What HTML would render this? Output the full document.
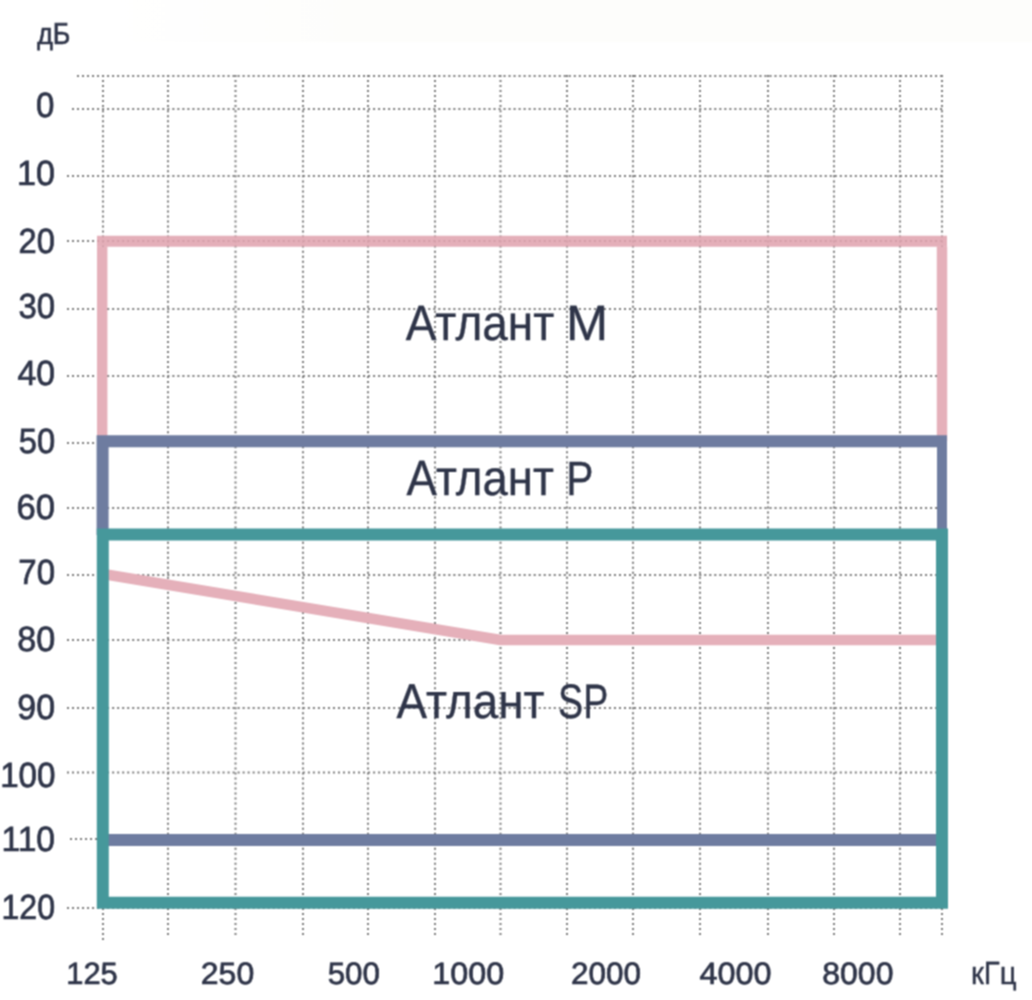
<!DOCTYPE html>
<html><head><meta charset="utf-8">
<style>
html,body{margin:0;padding:0;background:#fff;}
body{width:1032px;height:1000px;overflow:hidden;position:relative;}
svg{position:absolute;left:0;top:0;}
text{font-family:"Liberation Sans",sans-serif;fill:#2e3448;stroke:#2e3448;stroke-width:0.35;text-rendering:geometricPrecision;}
</style></head><body>
<svg width="1032" height="1000" viewBox="0 0 1032 1000">
<defs><linearGradient id="topband" x1="0" y1="0" x2="1032" y2="0" gradientUnits="userSpaceOnUse"><stop offset="0.1" stop-color="#fdfdfb" stop-opacity="0"/><stop offset="0.35" stop-color="#fdfdfb" stop-opacity="1"/></linearGradient><filter id="bl" color-interpolation-filters="sRGB" x="0" y="0" width="1032" height="1000" filterUnits="userSpaceOnUse"><feConvolveMatrix order="3" kernelMatrix="1 2 1 2 4 2 1 2 1" edgeMode="duplicate" preserveAlpha="false"/></filter></defs>
<g>
<rect x="0" y="0" width="1032" height="1000" fill="#fff"/>
<rect x="0" y="0" width="1032" height="42" fill="url(#topband)"/>
<g stroke="#7a7a7a" stroke-width="2" stroke-dasharray="2 3.018" fill="none">
<line x1="77" y1="76" x2="944" y2="76"/>
<line x1="72" y1="109" x2="944" y2="109"/>
<line x1="67" y1="176" x2="944" y2="176"/>
<line x1="67" y1="241" x2="944" y2="241"/>
<line x1="67" y1="309" x2="944" y2="309"/>
<line x1="67" y1="376" x2="944" y2="376"/>
<line x1="67" y1="443" x2="944" y2="443"/>
<line x1="67" y1="508" x2="944" y2="508"/>
<line x1="67" y1="575" x2="944" y2="575"/>
<line x1="67" y1="640" x2="944" y2="640"/>
<line x1="67" y1="708" x2="944" y2="708"/>
<line x1="67" y1="772.5" x2="944" y2="772.5"/>
<line x1="70" y1="839" x2="944" y2="839"/>
<line x1="67" y1="908" x2="944" y2="908"/>
<line x1="103" y1="75" x2="103" y2="942"/>
<line x1="168" y1="75" x2="168" y2="937"/>
<line x1="235.5" y1="75" x2="235.5" y2="937"/>
<line x1="303" y1="75" x2="303" y2="937"/>
<line x1="368" y1="75" x2="368" y2="937"/>
<line x1="435" y1="75" x2="435" y2="937"/>
<line x1="500.5" y1="75" x2="500.5" y2="937"/>
<line x1="567" y1="75" x2="567" y2="937"/>
<line x1="633" y1="75" x2="633" y2="937"/>
<line x1="700" y1="75" x2="700" y2="937"/>
<line x1="768" y1="75" x2="768" y2="937"/>
<line x1="834" y1="75" x2="834" y2="937"/>
<line x1="900" y1="75" x2="900" y2="937"/>
<line x1="942" y1="75" x2="942" y2="937"/>
</g>
<g fill="none" stroke-linecap="butt" stroke-linejoin="miter">
  <path d="M102.2 441 V246.5 M942 246.5 V441" stroke="#e5b0ba" stroke-width="10.4"/>
  <path d="M97 241.2 H947" stroke="#e0a3af" stroke-width="11" opacity="0.87"/>
  <path d="M103 574 L500.5 640 H936" stroke="#e5b0ba" stroke-width="10.5" stroke-linejoin="round"/>
  <path d="M102.6 535 V441.3 H937" stroke="#6e7ca0" stroke-width="12"/>
  <path d="M942 435.3 V535" stroke="#6e7ca0" stroke-width="10"/>
  <path d="M103 840 H942" stroke="#6e7ca0" stroke-width="12"/>
  <path d="M102.8 534.5 H942 V902.8 H102.8 Z" stroke="#46989b" stroke-width="12"/>
</g>
<text transform="translate(37.26 44.26) scale(0.8917 1.0084)" font-size="30" style="stroke-width:0.7">дБ</text>
<text transform="translate(36.03 117.03) scale(0.9711 1.0276)" font-size="34" style="stroke-width:0.7">0</text>
<text transform="translate(16.96 185.32) scale(1.0029 1.0276)" font-size="34" style="stroke-width:0.7">10</text>
<text transform="translate(18.52 252.51) scale(0.9602 1.0276)" font-size="34" style="stroke-width:0.7">20</text>
<text transform="translate(18.38 318.04) scale(0.9676 1.0276)" font-size="34" style="stroke-width:0.7">30</text>
<text transform="translate(17.45 385.05) scale(0.9922 1.0276)" font-size="34" style="stroke-width:0.7">40</text>
<text transform="translate(18.80 452.85) scale(0.9614 1.0276)" font-size="34" style="stroke-width:0.7">50</text>
<text transform="translate(16.43 519.34) scale(1.0189 1.0276)" font-size="34" style="stroke-width:0.7">60</text>
<text transform="translate(18.30 583.95) scale(0.9706 1.0276)" font-size="34" style="stroke-width:0.7">70</text>
<text transform="translate(17.16 651.43) scale(1.0037 1.0276)" font-size="34" style="stroke-width:0.7">80</text>
<text transform="translate(17.33 718.93) scale(0.9973 1.0276)" font-size="34" style="stroke-width:0.7">90</text>
<text transform="translate(0.17 786.84) scale(0.9752 1.0276)" font-size="34" style="stroke-width:0.7">100</text>
<text transform="translate(1.46 851.44) scale(0.9886 1.0276)" font-size="34" style="stroke-width:0.7">110</text>
<text transform="translate(1.48 919.14) scale(0.9430 1.0276)" font-size="34" style="stroke-width:0.7">120</text>
<text transform="translate(66.19 983.95) scale(0.9973 0.9970)" font-size="31" style="stroke-width:0.7">125</text>
<text transform="translate(200.82 983.91) scale(1.0326 0.9970)" font-size="31" style="stroke-width:0.7">250</text>
<text transform="translate(327.66 983.91) scale(1.0118 0.9970)" font-size="31" style="stroke-width:0.7">500</text>
<text transform="translate(432.37 983.91) scale(1.0434 0.9970)" font-size="31" style="stroke-width:0.7">1000</text>
<text transform="translate(570.93 984.00) scale(1.0150 0.9970)" font-size="31" style="stroke-width:0.7">2000</text>
<text transform="translate(699.45 983.79) scale(1.0446 0.9970)" font-size="31" style="stroke-width:0.7">4000</text>
<text transform="translate(822.28 983.91) scale(1.0315 0.9970)" font-size="31" style="stroke-width:0.7">8000</text>
<text transform="translate(970.98 984.26) scale(0.9494 1.0401)" font-size="31" style="stroke-width:0.35">кГц</text>
<text transform="translate(405.70 339.96) scale(0.9582 1.0349)" font-size="48" style="stroke-width:0.35">Атлант</text>
<text transform="translate(565.95 340.16) scale(1.0532 1.0355)" font-size="48" style="stroke-width:0.35">M</text>
<text transform="translate(406.49 495.16) scale(0.9500 1.0355)" font-size="48" style="stroke-width:0.35">Атлант</text>
<text transform="translate(566.13 494.53) scale(0.8479 0.9992)" font-size="48" style="stroke-width:0.35">P</text>
<text transform="translate(396.48 717.99) scale(0.9537 1.0221)" font-size="48" style="stroke-width:0.35">Атлант</text>
<text transform="translate(558.09 718.03) scale(0.7836 1.0121)" font-size="48" style="stroke-width:0.35">SP</text>
</g>
<g filter="url(#bl)">
<rect x="0" y="0" width="1032" height="1000" fill="#fff"/>
<rect x="0" y="0" width="1032" height="42" fill="url(#topband)"/>
<g stroke="#7a7a7a" stroke-width="2" stroke-dasharray="2 3.018" fill="none">
<line x1="77" y1="76" x2="944" y2="76"/>
<line x1="72" y1="109" x2="944" y2="109"/>
<line x1="67" y1="176" x2="944" y2="176"/>
<line x1="67" y1="241" x2="944" y2="241"/>
<line x1="67" y1="309" x2="944" y2="309"/>
<line x1="67" y1="376" x2="944" y2="376"/>
<line x1="67" y1="443" x2="944" y2="443"/>
<line x1="67" y1="508" x2="944" y2="508"/>
<line x1="67" y1="575" x2="944" y2="575"/>
<line x1="67" y1="640" x2="944" y2="640"/>
<line x1="67" y1="708" x2="944" y2="708"/>
<line x1="67" y1="772.5" x2="944" y2="772.5"/>
<line x1="70" y1="839" x2="944" y2="839"/>
<line x1="67" y1="908" x2="944" y2="908"/>
<line x1="103" y1="75" x2="103" y2="942"/>
<line x1="168" y1="75" x2="168" y2="937"/>
<line x1="235.5" y1="75" x2="235.5" y2="937"/>
<line x1="303" y1="75" x2="303" y2="937"/>
<line x1="368" y1="75" x2="368" y2="937"/>
<line x1="435" y1="75" x2="435" y2="937"/>
<line x1="500.5" y1="75" x2="500.5" y2="937"/>
<line x1="567" y1="75" x2="567" y2="937"/>
<line x1="633" y1="75" x2="633" y2="937"/>
<line x1="700" y1="75" x2="700" y2="937"/>
<line x1="768" y1="75" x2="768" y2="937"/>
<line x1="834" y1="75" x2="834" y2="937"/>
<line x1="900" y1="75" x2="900" y2="937"/>
<line x1="942" y1="75" x2="942" y2="937"/>
</g>
<g fill="none" stroke-linecap="butt" stroke-linejoin="miter">
  <path d="M102.2 441 V246.5 M942 246.5 V441" stroke="#e5b0ba" stroke-width="10.4"/>
  <path d="M97 241.2 H947" stroke="#e0a3af" stroke-width="11" opacity="0.87"/>
  <path d="M103 574 L500.5 640 H936" stroke="#e5b0ba" stroke-width="10.5" stroke-linejoin="round"/>
  <path d="M102.6 535 V441.3 H937" stroke="#6e7ca0" stroke-width="12"/>
  <path d="M942 435.3 V535" stroke="#6e7ca0" stroke-width="10"/>
  <path d="M103 840 H942" stroke="#6e7ca0" stroke-width="12"/>
  <path d="M102.8 534.5 H942 V902.8 H102.8 Z" stroke="#46989b" stroke-width="12"/>
</g>
<text transform="translate(37.26 44.26) scale(0.8917 1.0084)" font-size="30" style="stroke-width:0.7">дБ</text>
<text transform="translate(36.03 117.03) scale(0.9711 1.0276)" font-size="34" style="stroke-width:0.7">0</text>
<text transform="translate(16.96 185.32) scale(1.0029 1.0276)" font-size="34" style="stroke-width:0.7">10</text>
<text transform="translate(18.52 252.51) scale(0.9602 1.0276)" font-size="34" style="stroke-width:0.7">20</text>
<text transform="translate(18.38 318.04) scale(0.9676 1.0276)" font-size="34" style="stroke-width:0.7">30</text>
<text transform="translate(17.45 385.05) scale(0.9922 1.0276)" font-size="34" style="stroke-width:0.7">40</text>
<text transform="translate(18.80 452.85) scale(0.9614 1.0276)" font-size="34" style="stroke-width:0.7">50</text>
<text transform="translate(16.43 519.34) scale(1.0189 1.0276)" font-size="34" style="stroke-width:0.7">60</text>
<text transform="translate(18.30 583.95) scale(0.9706 1.0276)" font-size="34" style="stroke-width:0.7">70</text>
<text transform="translate(17.16 651.43) scale(1.0037 1.0276)" font-size="34" style="stroke-width:0.7">80</text>
<text transform="translate(17.33 718.93) scale(0.9973 1.0276)" font-size="34" style="stroke-width:0.7">90</text>
<text transform="translate(0.17 786.84) scale(0.9752 1.0276)" font-size="34" style="stroke-width:0.7">100</text>
<text transform="translate(1.46 851.44) scale(0.9886 1.0276)" font-size="34" style="stroke-width:0.7">110</text>
<text transform="translate(1.48 919.14) scale(0.9430 1.0276)" font-size="34" style="stroke-width:0.7">120</text>
<text transform="translate(66.19 983.95) scale(0.9973 0.9970)" font-size="31" style="stroke-width:0.7">125</text>
<text transform="translate(200.82 983.91) scale(1.0326 0.9970)" font-size="31" style="stroke-width:0.7">250</text>
<text transform="translate(327.66 983.91) scale(1.0118 0.9970)" font-size="31" style="stroke-width:0.7">500</text>
<text transform="translate(432.37 983.91) scale(1.0434 0.9970)" font-size="31" style="stroke-width:0.7">1000</text>
<text transform="translate(570.93 984.00) scale(1.0150 0.9970)" font-size="31" style="stroke-width:0.7">2000</text>
<text transform="translate(699.45 983.79) scale(1.0446 0.9970)" font-size="31" style="stroke-width:0.7">4000</text>
<text transform="translate(822.28 983.91) scale(1.0315 0.9970)" font-size="31" style="stroke-width:0.7">8000</text>
<text transform="translate(970.98 984.26) scale(0.9494 1.0401)" font-size="31" style="stroke-width:0.35">кГц</text>
<text transform="translate(405.70 339.96) scale(0.9582 1.0349)" font-size="48" style="stroke-width:0.35">Атлант</text>
<text transform="translate(565.95 340.16) scale(1.0532 1.0355)" font-size="48" style="stroke-width:0.35">M</text>
<text transform="translate(406.49 495.16) scale(0.9500 1.0355)" font-size="48" style="stroke-width:0.35">Атлант</text>
<text transform="translate(566.13 494.53) scale(0.8479 0.9992)" font-size="48" style="stroke-width:0.35">P</text>
<text transform="translate(396.48 717.99) scale(0.9537 1.0221)" font-size="48" style="stroke-width:0.35">Атлант</text>
<text transform="translate(558.09 718.03) scale(0.7836 1.0121)" font-size="48" style="stroke-width:0.35">SP</text>
</g>
</svg>
</body></html>
